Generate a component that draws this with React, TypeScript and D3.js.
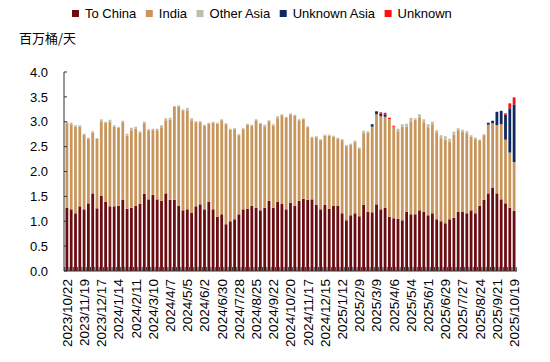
import React, { useEffect, useRef } from "react";
import * as d3 from "d3";

// weekly exports by destination, million bbl/day
const toChina = [
  1.27, 1.24, 1.16, 1.3, 1.24, 1.36, 1.56, 1.26, 1.51, 1.39, 1.3, 1.3, 1.31, 1.43, 1.25, 1.27, 1.31, 1.35, 1.55, 1.44,
  1.53, 1.44, 1.41, 1.56, 1.43, 1.43, 1.31, 1.22, 1.24, 1.17, 1.3, 1.34, 1.24, 1.39, 1.24, 1.09, 1.14, 0.94, 1.0, 1.04,
  1.14, 1.24, 1.25, 1.31, 1.27, 1.22, 1.27, 1.41, 1.27, 1.39, 1.35, 1.24, 1.37, 1.31, 1.41, 1.45, 1.43, 1.44, 1.33, 1.24,
  1.33, 1.25, 1.31, 1.31, 1.16, 1.02, 1.12, 1.16, 1.1, 1.33, 1.19, 1.18, 1.34, 1.24, 1.27, 1.09, 1.06, 1.05, 1.02, 1.19,
  1.14, 1.14, 1.22, 1.19, 1.12, 1.16, 1.04, 1.0, 0.96, 1.04, 1.07, 1.19, 1.19, 1.16, 1.22, 1.16, 1.31, 1.43, 1.56, 1.67,
  1.56, 1.44, 1.36, 1.27, 1.21,
];
const india = [
  1.7, 1.71, 1.74, 1.6, 1.5, 1.3, 1.22, 1.4, 1.5, 1.59, 1.7, 1.6, 1.57, 1.56, 1.47, 1.56, 1.55, 1.43, 1.42, 1.39,
  1.3, 1.39, 1.48, 1.47, 1.61, 1.87, 1.99, 2.0, 1.99, 1.86, 1.69, 1.65, 1.68, 1.57, 1.74, 1.87, 1.89, 2.01, 1.84, 1.81,
  1.59, 1.61, 1.69, 1.61, 1.76, 1.74, 1.63, 1.6, 1.65, 1.68, 1.78, 1.84, 1.78, 1.81, 1.62, 1.6, 1.46, 1.24, 1.36, 1.39,
  1.39, 1.47, 1.39, 1.35, 1.47, 1.49, 1.41, 1.43, 1.35, 1.44, 1.59, 1.72, 1.81, 1.87, 1.83, 1.96, 1.84, 1.76, 1.88, 1.71,
  1.87, 1.9, 1.87, 1.8, 1.77, 1.79, 1.75, 1.67, 1.68, 1.56, 1.67, 1.64, 1.61, 1.61, 1.48, 1.49, 1.32, 1.3, 1.38, 1.3,
  1.37, 1.51, 1.28, 1.11, 0.98,
];
const otherAsia = [
  0.03, 0.03, 0.03, 0.03, 0.02, 0.02, 0.03, 0.01, 0.04, 0.02, 0.04, 0.03, 0.02, 0.03, 0.04, 0.05, 0.04, 0.03, 0.03, 0.02,
  0.03, 0.03, 0.04, 0.04, 0.04, 0.02, 0.03, 0.03, 0.05, 0.04, 0.02, 0.02, 0.02, 0.02, 0.02, 0.02, 0.02, 0.02, 0.02, 0.02,
  0.02, 0.02, 0.02, 0.02, 0.02, 0.02, 0.04, 0.02, 0.03, 0.04, 0.02, 0.02, 0.02, 0.02, 0.02, 0.02, 0.02, 0.02, 0.02, 0.02,
  0.02, 0.02, 0.02, 0.02, 0.02, 0.02, 0.03, 0.03, 0.03, 0.05, 0.03, 0, 0, 0, 0, 0, 0, 0.05, 0.05, 0.06,
  0.07, 0.03, 0.06, 0.06, 0.06, 0.05, 0.04, 0.06, 0.07, 0.06, 0.06, 0.04, 0.04, 0.04, 0.03, 0.03, 0.01, 0.02, 0, 0,
  0, 0, 0, 0, 0,
];
// weeks 0-70 and 75-97 had no unknown-Asia cargoes
const unknownAsia = [
  ...Array(71).fill(0),
  0.05, 0.06, 0.05, 0.05,
  ...Array(23).fill(0),
  0.04, 0.05, 0.27, 0.27, 0.5, 0.89, 1.16,
];
const unknown = [
  ...Array(73).fill(0),
  0.03, 0.03, 0.03, 0.02,
  ...Array(25).fill(0),
  0.03, 0.1, 0.14,
];

const seriesNames = ["To China", "India", "Other Asia", "Unknown Asia", "Unknown"];
const seriesColors = ["#6B0C12", "#C8965C", "#BDBDAE", "#10285E", "#FF1010"];

const tickLabels = [
  "2023/10/22", "2023/11/19", "2023/12/17", "2024/1/14", "2024/2/11", "2024/3/10", "2024/4/7", "2024/5/5",
  "2024/6/2", "2024/6/30", "2024/7/28", "2024/8/25", "2024/9/22", "2024/10/20", "2024/11/17", "2024/12/15",
  "2025/1/12", "2025/2/9", "2025/3/9", "2025/4/6", "2025/5/4", "2025/6/1", "2025/6/29", "2025/7/27",
  "2025/8/24", "2025/9/21", "2025/10/19",
];
const yTicks = [0, 0.5, 1, 1.5, 2, 2.5, 3, 3.5, 4];

const W = 550;
const H = 362;
const FONT = "'Liberation Sans', Arial, sans-serif";

export default function App() {
  const svgRef = useRef<SVGSVGElement>(null);

  useEffect(() => {
    const svg = d3.select(svgRef.current);
    svg.selectAll("*").remove();

    const n = toChina.length;
    const rows = d3.range(n).map((i) => ({
      i,
      "To China": toChina[i],
      India: india[i],
      "Other Asia": otherAsia[i],
      "Unknown Asia": unknownAsia[i],
      Unknown: unknown[i],
    }));

    const x = d3.scaleBand<number>().domain(d3.range(n)).range([64, 517]).padding(0.35);
    const y = d3.scaleLinear().domain([0, 4]).range([271, 72]);
    const color = d3.scaleOrdinal<string>().domain(seriesNames).range(seriesColors);

    const stacked = d3.stack<any>().keys(seriesNames)(rows);

    // bars
    svg
      .append("g")
      .selectAll("g")
      .data(stacked)
      .join("g")
      .attr("fill", (s) => color(s.key))
      .selectAll("rect")
      .data((s) => s.filter((d) => d[1] - d[0] > 0))
      .join("rect")
      .attr("x", (d) => x(d.data.i)!)
      .attr("width", x.bandwidth())
      .attr("y", (d) => y(d[1]))
      .attr("height", (d) => y(d[0]) - y(d[1]));

    // y axis
    const yAxis = svg.append("g");
    yAxis
      .append("line")
      .attr("x1", 64)
      .attr("x2", 64)
      .attr("y1", y(4))
      .attr("y2", y(0))
      .attr("stroke", "#333");
    yAxis
      .selectAll("line.t")
      .data(yTicks)
      .join("line")
      .attr("class", "t")
      .attr("x1", 64)
      .attr("x2", 67)
      .attr("y1", (d) => y(d))
      .attr("y2", (d) => y(d))
      .attr("stroke", "#333");
    yAxis
      .selectAll("text")
      .data(yTicks)
      .join("text")
      .attr("x", 48)
      .attr("y", (d) => y(d))
      .attr("dy", "0.36em")
      .attr("text-anchor", "end")
      .style("font", `13px ${FONT}`)
      .text((d) => d3.format(".1f")(d));

    // x axis, ticks sit between the bars and point up
    const xAxis = svg.append("g");
    xAxis
      .append("line")
      .attr("x1", 64)
      .attr("x2", 517)
      .attr("y1", y(0))
      .attr("y2", y(0))
      .attr("stroke", "#333");
    const edge = (i: number) => x(0)! - (x.step() * x.paddingInner()) / 2 + i * x.step();
    xAxis
      .selectAll("line.t")
      .data(d3.range(n + 1))
      .join("line")
      .attr("class", "t")
      .attr("x1", edge)
      .attr("x2", edge)
      .attr("y1", y(0))
      .attr("y2", y(0) - 4)
      .attr("stroke", "#333");
    xAxis
      .selectAll("text")
      .data(tickLabels)
      .join("text")
      .attr("transform", (d, k) => `translate(${x(k * 4)! + x.bandwidth() / 2},279) rotate(-90)`)
      .attr("dy", "0.36em")
      .attr("text-anchor", "end")
      .style("font", `13.6px ${FONT}`)
      .text((d) => d);

    // unit label
    svg
      .append("text")
      .attr("x", 19)
      .attr("y", 42.5)
      .style("font", "13px 'Noto Sans CJK SC', sans-serif")
      .text("百万桶/天");

    // legend
    const legend = svg.append("g");
    let lx = 72;
    seriesNames.forEach((name) => {
      legend
        .append("rect")
        .attr("x", lx)
        .attr("y", 10)
        .attr("width", 7)
        .attr("height", 7)
        .attr("fill", color(name));
      const t = legend
        .append("text")
        .attr("x", lx + 13)
        .attr("y", 17.5)
        .style("font", `13px ${FONT}`)
        .text(name);
      const w = (t.node() as SVGTextElement).getComputedTextLength();
      lx += 13 + w + 9.5;
    });
  }, []);

  return (
    <svg
      ref={svgRef}
      width={W}
      height={H}
      style={{ position: "absolute", left: 0, top: 0, background: "#fff" }}
    />
  );
}
